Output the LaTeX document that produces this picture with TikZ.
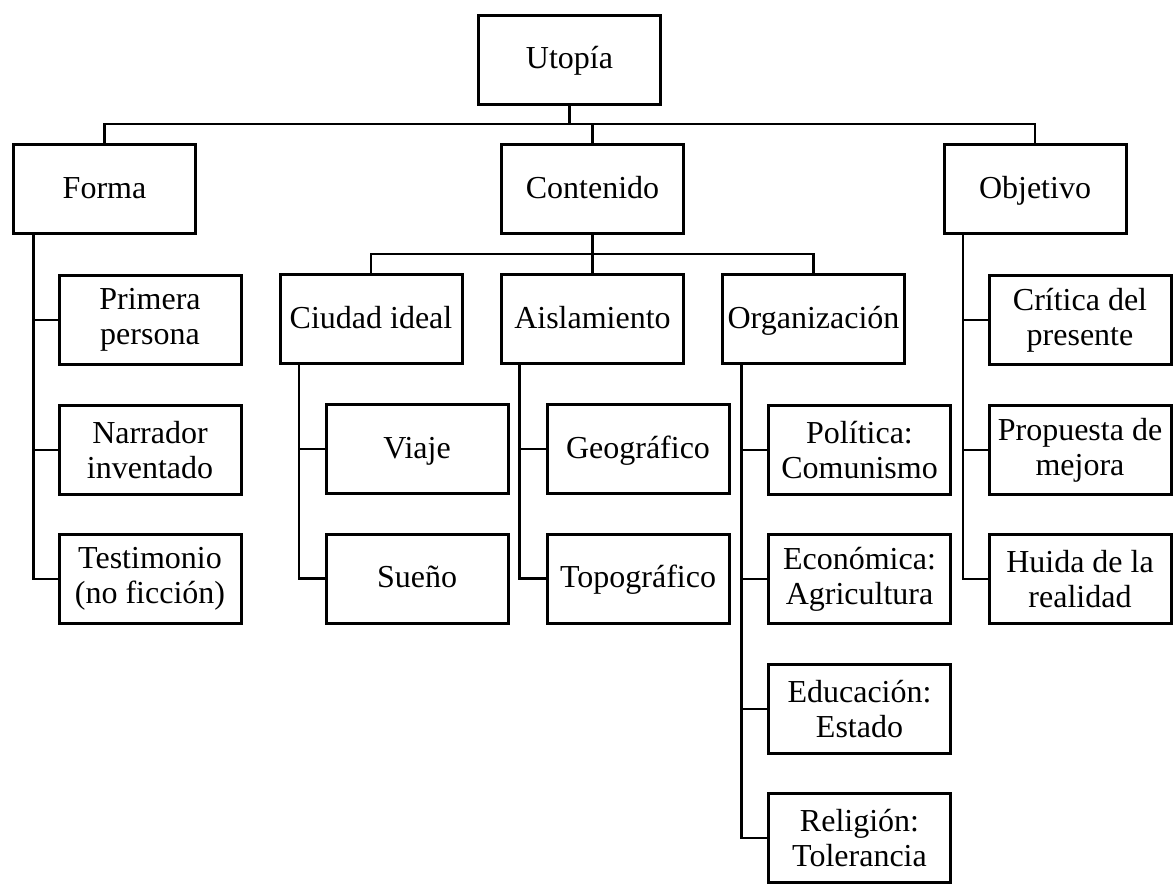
\documentclass[tikz,border=0pt]{standalone}
\usepackage{fontspec}
\setmainfont{Liberation Serif}
\begin{document}
\begin{tikzpicture}[x=1pt,y=-1pt,
  box/.style={draw, line width=3pt, minimum width=182pt, minimum height=89pt,
    inner sep=0pt, outer sep=0pt, align=center,
    font=\fontsize{32}{35}\selectfont},
  single/.style={box, text height=23pt, text depth=5pt},
  link/.style={line width=2.2pt}]
\fill[white] (0,0) rectangle (1173,884);
\useasboundingbox (0,0) rectangle (1173,884);

% levels 0 and 1
\node[single] (utopia) at (569.5,59.5) {Utopía};
\node[single] (forma) at (104.5,189) {Forma};
\node[single] (contenido) at (592.5,189) {Contenido};
\node[single] (objetivo) at (1035,189) {Objetivo};

% level 2
\node[box] (primera) at (150,320) {Primera\\persona};
\node[single] (ciudad) at (371,319) {Ciudad ideal};
\node[single] (aisla) at (592.5,319) {Aislamiento};
\node[single] (organ) at (813.5,319) {Organización};
\node[box] (critica) at (1080,320) {Crítica del\\presente};

% level 3
\node[box] (narrador) at (150,450) {Narrador\\inventado};
\node[single] (viaje) at (417,449) {Viaje};
\node[single] (geo) at (638,449) {Geográfico};
\node[box] (politica) at (859.5,450) {Política:\\Comunismo};
\node[box] (propuesta) at (1080,450) {Propuesta de\\mejora};

% level 4
\node[box] (testimonio) at (150,579) {Testimonio\\(no ficción)};
\node[single] (sueno) at (417,578.5) {Sueño};
\node[single] (topo) at (638,578.5) {Topográfico};
\node[box] (economica) at (859.5,579) {Económica:\\Agricultura};
\node[box] (huida) at (1080,579) {Huida de la\\realidad};

% levels 5 and 6
\node[box] (educacion) at (859.5,709) {Educación:\\Estado};
\node[box] (religion) at (859.5,838) {Religión:\\Tolerancia};

% horizontal bars
\coordinate (barA) at (0,124);
\coordinate (barB) at (0,254);

\draw[link] (utopia.south) -- (utopia.south |- barA);
\draw[link] (forma.north) -- (forma.north |- barA) -- (objetivo.north |- barA) -- (objetivo.north);
\draw[link] (contenido.north) -- (contenido.north |- barA);

\draw[link] (contenido.south) -- (aisla.north);
\draw[link] (ciudad.north) -- (ciudad.north |- barB) -- (organ.north |- barB) -- (organ.north);

% side trunks
\draw[link] ([xshift=20pt]forma.south west) |- (testimonio.west);
\draw[link] ([xshift=20pt]forma.south west |- primera.west) -- (primera.west);
\draw[link] ([xshift=20pt]forma.south west |- narrador.west) -- (narrador.west);

\draw[link] ([xshift=19pt]ciudad.south west) |- (sueno.west);
\draw[link] ([xshift=19pt]ciudad.south west |- viaje.west) -- (viaje.west);

\draw[link] ([xshift=18pt]aisla.south west) |- (topo.west);
\draw[link] ([xshift=18pt]aisla.south west |- geo.west) -- (geo.west);

\draw[link] ([xshift=19pt]organ.south west) |- (religion.west);
\draw[link] ([xshift=19pt]organ.south west |- politica.west) -- (politica.west);
\draw[link] ([xshift=19pt]organ.south west |- economica.west) -- (economica.west);
\draw[link] ([xshift=19pt]organ.south west |- educacion.west) -- (educacion.west);

\draw[link] ([xshift=19pt]objetivo.south west) |- (huida.west);
\draw[link] ([xshift=19pt]objetivo.south west |- critica.west) -- (critica.west);
\draw[link] ([xshift=19pt]objetivo.south west |- propuesta.west) -- (propuesta.west);
\end{tikzpicture}
\end{document}
